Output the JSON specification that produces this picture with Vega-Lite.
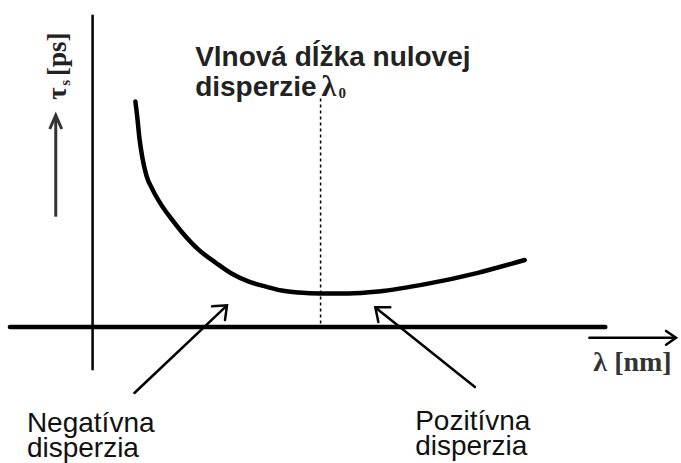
{
  "$schema": "https://vega.github.io/schema/vega-lite/v6.json",
  "width": 681,
  "height": 463,
  "padding": 0,
  "autosize": {"type": "fit", "contains": "padding"},
  "background": "white",
  "config": {"view": {"stroke": null}},
  "datasets": {
    "curve": [
      {"x": 136, "y": 103}, {"x": 138, "y": 120}, {"x": 140, "y": 140}, {"x": 143, "y": 160},
      {"x": 147, "y": 178}, {"x": 153, "y": 192}, {"x": 162, "y": 208}, {"x": 172, "y": 222},
      {"x": 183, "y": 236}, {"x": 200, "y": 254}, {"x": 217, "y": 267}, {"x": 233, "y": 278},
      {"x": 250, "y": 286}, {"x": 267, "y": 291}, {"x": 283, "y": 295}, {"x": 300, "y": 297},
      {"x": 322, "y": 298}, {"x": 350, "y": 298}, {"x": 380, "y": 296}, {"x": 430, "y": 288},
      {"x": 480, "y": 277}, {"x": 527, "y": 264}
    ],
    "haxis": [{"id": "h", "k": 0, "x": 10, "y": 332}, {"id": "h", "k": 1, "x": 608, "y": 332}],
    "vaxis": [{"id": "v", "k": 0, "x": 93, "y": 15}, {"id": "v", "k": 1, "x": 93, "y": 376}],
    "dotted": [{"id": "d", "k": 0, "x": 322, "y": 100}, {"id": "d", "k": 1, "x": 322, "y": 330}],
    "arrows": [
      {"id": "xs", "k": 0, "x": 592, "y": 343}, {"id": "xs", "k": 1, "x": 678, "y": 343},
      {"id": "xh", "k": 0, "x": 669, "y": 336}, {"id": "xh", "k": 1, "x": 679, "y": 343}, {"id": "xh", "k": 2, "x": 669, "y": 350},
      {"id": "ns", "k": 0, "x": 135, "y": 399}, {"id": "ns", "k": 1, "x": 227, "y": 311},
      {"id": "nh", "k": 0, "x": 213, "y": 311}, {"id": "nh", "k": 1, "x": 228, "y": 310}, {"id": "nh", "k": 2, "x": 226, "y": 325},
      {"id": "ps", "k": 0, "x": 477, "y": 393}, {"id": "ps", "k": 1, "x": 378, "y": 313},
      {"id": "ph", "k": 0, "x": 392, "y": 312}, {"id": "ph", "k": 1, "x": 377, "y": 312}, {"id": "ph", "k": 2, "x": 380, "y": 327}
    ],
    "varrow": [
      {"id": "vs", "k": 0, "x": 56, "y": 220}, {"id": "vs", "k": 1, "x": 56, "y": 119},
      {"id": "vh", "k": 0, "x": 50, "y": 131}, {"id": "vh", "k": 1, "x": 56, "y": 117}, {"id": "vh", "k": 2, "x": 62, "y": 131}
    ],
    "title": [{"x": 196, "y": 67, "t": ["Vlnová dĺžka nulovej", "disperzie"]}],
    "lambda0": [{"x": 323, "y": 97, "t": "λ"}],
    "zero": [{"x": 340, "y": 99, "t": "0"}],
    "labels": [
      {"x": 27, "y": 439, "t": ["Negatívna", "disperzia"]},
      {"x": 417, "y": 437, "t": ["Pozitívna", "disperzia"]}
    ],
    "xlabel": [{"x": 596, "y": 377, "t": "λ [nm]"}],
    "ylabelA": [{"x": 58, "y": 95, "t": "τ"}, {"x": 58, "y": 55, "t": "[ps]"}],
    "ylabelS": [{"x": 65, "y": 84, "t": "s"}]
  },
  "encoding": {
    "x": {"field": "x", "type": "quantitative", "scale": {"domain": [0, 681], "nice": false, "zero": false}, "axis": null},
    "y": {"field": "y", "type": "quantitative", "scale": {"domain": [463, 0], "nice": false, "zero": false}, "axis": null}
  },
  "layer": [
    {
      "data": {"name": "curve"},
      "mark": {"type": "line", "interpolate": "monotone", "color": "black", "strokeWidth": 4.5, "strokeCap": "round"},
      "encoding": {}
    },
    {
      "data": {"name": "haxis"},
      "mark": {"type": "line", "color": "black", "strokeWidth": 4.5, "strokeCap": "round"},
      "encoding": {"detail": {"field": "id"}, "order": {"field": "k"}}
    },
    {
      "data": {"name": "vaxis"},
      "mark": {"type": "line", "color": "black", "strokeWidth": 2.5},
      "encoding": {"detail": {"field": "id"}, "order": {"field": "k"}}
    },
    {
      "data": {"name": "dotted"},
      "mark": {"type": "line", "color": "black", "strokeWidth": 1.5, "strokeDash": [3, 3]},
      "encoding": {"detail": {"field": "id"}, "order": {"field": "k"}}
    },
    {
      "data": {"name": "arrows"},
      "mark": {"type": "line", "color": "black", "strokeWidth": 2.5, "strokeCap": "round", "strokeJoin": "miter"},
      "encoding": {"detail": {"field": "id"}, "order": {"field": "k"}}
    },
    {
      "data": {"name": "varrow"},
      "mark": {"type": "line", "color": "#333333", "strokeWidth": 3, "strokeJoin": "miter"},
      "encoding": {"detail": {"field": "id"}, "order": {"field": "k"}}
    },
    {
      "data": {"name": "title"},
      "mark": {"type": "text", "align": "left", "baseline": "alphabetic", "lineHeight": 30, "font": "Liberation Sans", "fontWeight": "bold", "fontSize": 28, "color": "#222222"},
      "encoding": {"text": {"field": "t"}}
    },
    {
      "data": {"name": "lambda0"},
      "mark": {"type": "text", "align": "left", "baseline": "alphabetic", "font": "Liberation Serif", "fontWeight": "bold", "fontSize": 30, "color": "#222222"},
      "encoding": {"text": {"field": "t"}}
    },
    {
      "data": {"name": "zero"},
      "mark": {"type": "text", "align": "left", "baseline": "alphabetic", "font": "Liberation Serif", "fontWeight": "bold", "fontSize": 15, "color": "#222222"},
      "encoding": {"text": {"field": "t"}}
    },
    {
      "data": {"name": "labels"},
      "mark": {"type": "text", "align": "left", "baseline": "alphabetic", "lineHeight": 25, "font": "Liberation Sans", "fontSize": 28, "color": "#111111"},
      "encoding": {"text": {"field": "t"}}
    },
    {
      "data": {"name": "xlabel"},
      "mark": {"type": "text", "align": "left", "baseline": "alphabetic", "font": "Liberation Serif", "fontWeight": "bold", "fontSize": 28, "color": "#333333"},
      "encoding": {"text": {"field": "t"}}
    },
    {
      "data": {"name": "ylabelA"},
      "mark": {"type": "text", "align": "center", "baseline": "middle", "angle": 270, "font": "Liberation Serif", "fontWeight": "bold", "fontSize": 27, "color": "#222222"},
      "encoding": {"text": {"field": "t"}}
    },
    {
      "data": {"name": "ylabelS"},
      "mark": {"type": "text", "align": "center", "baseline": "middle", "angle": 270, "font": "Liberation Serif", "fontWeight": "bold", "fontSize": 15, "color": "#222222"},
      "encoding": {"text": {"field": "t"}}
    }
  ]
}
